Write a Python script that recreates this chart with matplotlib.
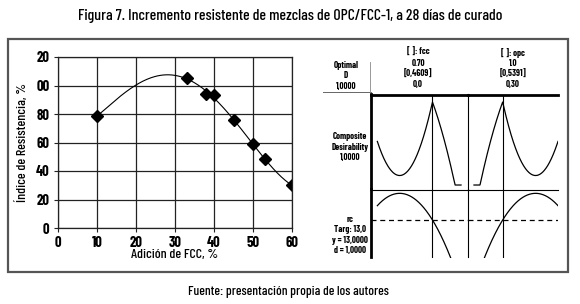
import numpy as np
import matplotlib
matplotlib.use("Agg")
import matplotlib.pyplot as plt
from matplotlib.patches import Rectangle
from matplotlib.lines import Line2D

plt.rcParams['font.family'] = ['Barlow Condensed', 'DejaVu Sans']

# left chart data
fcc_add = [10, 33, 38, 40, 45, 50, 53, 60]
res_index = [78.5, 105, 94, 93.5, 75.5, 59, 48.5, 30]
x_ticks = [0, 10, 20, 30, 40, 50, 60]
y_ticks = [0, 20, 40, 60, 80, 100, 120]
y_ticklabels = ['0', '20', '40', '60', '80', '00', '20']

# response optimizer (rc vs fcc)
rc_fcc = [0.0, 0.19, 0.4609]
rc_val = [15.2, 17.1, 13.0]
rc_target = 13.0
rc_upper = 17.63
rc_lower = 5.4
fcc_cur = 0.4609
opc_cur = 0.5391
fcc_range = [0.0, 0.70]
opc_range = [0.30, 1.0]

W, H = 580, 304
fig = plt.figure(figsize=(W / 100, H / 100), dpi=100)


def px_axes(x0, y0, x1, y1):
    return fig.add_axes([x0 / W, 1 - y1 / H, (x1 - x0) / W, (y1 - y0) / H])


def fx(x):
    return x / W


def fy(y):
    return 1 - y / H


# outer frame
fig.patches.append(Rectangle((fx(8), fy(272)), fx(560), (272 - 39) / H,
                             transform=fig.transFigure, fill=False,
                             edgecolor='#555555', lw=1.6))

fig.text(fx(290), fy(16), 'Figura 7. Incremento resistente de mezclas de OPC/FCC-1, a 28 días de curado',
         ha='center', va='center', fontsize=11.3, fontweight='medium')
fig.text(fx(288), fy(292), 'Fuente: presentación propia de los autores',
         ha='center', va='center', fontsize=9.6, fontweight='medium')

# ---- left chart
ax = px_axes(58, 57, 292, 228)
coef = np.polyfit(fcc_add, res_index, 4)
xs = np.linspace(min(fcc_add), max(fcc_add), 200)
ax.plot(xs, np.polyval(coef, xs), color='black', lw=0.8)
ax.plot(fcc_add, res_index, 'D', color='black', ms=6)
ax.set_xlim(0, 60)
ax.set_ylim(0, 120)
ax.set_xticks(x_ticks)
ax.set_yticks(y_ticks)
ax.set_yticklabels(y_ticklabels)
ax.grid(True, color='#222222', lw=0.9)
ax.set_axisbelow(True)
for s in ax.spines.values():
    s.set_color('#222222')
    s.set_linewidth(0.9)
ax.tick_params(length=3, width=0.8, color='#222222', labelsize=10.5, pad=3)
for lab in ax.get_xticklabels() + ax.get_yticklabels():
    lab.set_fontweight('bold')
ax.set_xlabel('Adición de FCC, %', fontsize=10, fontweight='medium')
ax.set_ylabel('Índice de Resistencia, %', fontsize=10, fontweight='medium')
ax.xaxis.set_label_coords(0.5, -0.125)
ax.yaxis.set_label_coords(-0.125, 0.5)

# ---- right panel (optimizer)
rc_coef = np.polyfit(rc_fcc, rc_val, 2)


def desir(rc):
    d = np.where(rc >= rc_target,
                 (rc_upper - rc) / (rc_upper - rc_target),
                 (rc - rc_lower) / (rc_target - rc_lower))
    return np.clip(d, 0, 1)


small = dict(fontsize=6.5, fontweight='bold', ha='center', va='center', linespacing=1.22)
fig.text(fx(346), fy(76), 'Optimal\nD\n1,0000', **small)
fig.text(fx(418), fy(68.5), '[ ]: fcc\n0.70\n[0,4609]\n0,0', **small)
fig.text(fx(513), fy(68.5), '[ ]: opc\n1.0\n[0,5391]\n0,30', **small)
fig.text(fx(350), fy(147), 'Composite\nDesirability\n1,0000', **small)
fig.text(fx(350), fy(235), 'rc\nTarg: 13,0\ny = 13,0000\nd = 1,0000', **small)

fig.add_artist(Line2D([fx(323), fx(371)], [fy(92), fy(92)], transform=fig.transFigure,
                      color='#666666', lw=0.7))
fig.add_artist(Line2D([fx(370), fx(370)], [fy(62), fy(92)], transform=fig.transFigure,
                      color='#888888', lw=0.6))

cols = [
    (371, 467.5, (-0.053, 0.754), fcc_range, fcc_cur, False),
    (467.5, 558, (0.246, 1.0), opc_range, opc_cur, True),
]
for i, (x0, x1, xl, rng, cur, is_opc) in enumerate(cols):
    xv = np.linspace(rng[0], rng[1], 300)
    f = 1 - xv if is_opc else xv
    rc = np.polyval(rc_coef, f)

    ad = px_axes(x0, 94.5, x1, 189.5)
    ad.plot(xv, desir(rc), color='black', lw=0.9)
    ad.set_xlim(*xl)
    ad.set_ylim(-0.054, 1.09)

    ar = px_axes(x0, 189.5, x1, 257.5)
    ar.plot(xv, rc, color='black', lw=0.9)
    ar.axhline(rc_target, color='black', lw=0.9, dashes=(4, 3))
    ar.set_xlim(*xl)
    ar.set_ylim(7.23, 17.69)

    for a in (ad, ar):
        a.axvline(cur, color='black', lw=0.8)
        a.set_xticks([])
        a.set_yticks([])
        a.patch.set_alpha(0)
        a.spines['left'].set_visible(i == 0)
        a.spines['left'].set_linewidth(2)
        a.spines['right'].set_visible(i == 0)
        a.spines['right'].set_linewidth(0.8)
        a.spines['top'].set_visible(False)
        a.spines['bottom'].set_visible(False)
    ad.spines['top'].set_visible(True)
    ad.spines['top'].set_linewidth(2)
    ad.spines['bottom'].set_visible(True)
    ad.spines['bottom'].set_linewidth(0.8)

fig.savefig('out.png', dpi=100)
